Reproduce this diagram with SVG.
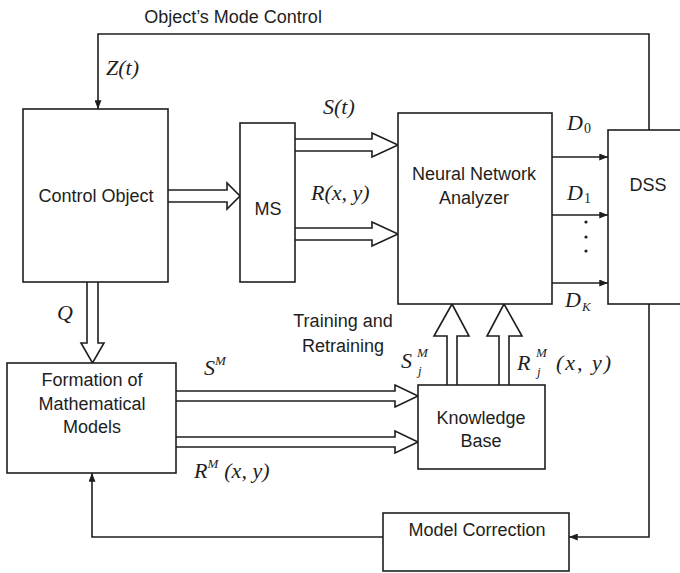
<svg xmlns="http://www.w3.org/2000/svg" width="680" height="573" viewBox="0 0 680 573">
<style>
.box{fill:#fff;stroke:#1e1e1e;stroke-width:1.6}
.ln{fill:none;stroke:#1e1e1e;stroke-width:1.6}
.fat{fill:#fff;stroke:#1e1e1e;stroke-width:1.6;stroke-linejoin:miter}
.lbl{font-family:"Liberation Sans",Arial,sans-serif;font-size:18px;fill:#1e1e1e;text-anchor:middle}
.m{font-family:"Liberation Serif","Times New Roman",serif;font-style:italic;font-size:22px;fill:#1e1e1e}
.s{font-family:"Liberation Serif","Times New Roman",serif;font-style:italic;font-size:13px;fill:#1e1e1e}
.su{font-family:"Liberation Serif","Times New Roman",serif;font-style:normal;font-size:14px;fill:#1e1e1e}
</style>
<defs>
<marker id="ah" viewBox="0 0 10 8" refX="10" refY="4" markerWidth="9" markerHeight="7" markerUnits="userSpaceOnUse" orient="auto">
<path d="M0,0 L10,4 L0,8 Z" fill="#1e1e1e"/>
</marker>
</defs>
<text class="lbl" x="233" y="23">Object’s Mode Control</text>
<g id="connectors">
<polyline class="ln" points="649,130 649,34 98,34 98,109" marker-end="url(#ah)"/>
<line class="ln" x1="552" y1="157" x2="608" y2="157" marker-end="url(#ah)"/>
<line class="ln" x1="552" y1="215" x2="608" y2="215" marker-end="url(#ah)"/>
<line class="ln" x1="552" y1="283" x2="608" y2="283" marker-end="url(#ah)"/>
<polyline class="ln" points="649,304 649,537 569,537" marker-end="url(#ah)"/>
<polyline class="ln" points="383,537 92,537 92,473" marker-end="url(#ah)"/>
<path class="fat" d="M168,190 L227,190 L227,183 L240,196 L227,209 L227,202 L168,202"/>
<path class="fat" d="M295,139 L372,139 L372,133 L398,145 L372,157 L372,151 L295,151"/>
<path class="fat" d="M295,228 L372,228 L372,222 L398,234 L372,246 L372,240 L295,240"/>
<path class="fat" d="M87,282 L87,343 L81,343 L92.5,363 L104,343 L98,343 L98,282"/>
<path class="fat" d="M176,391 L395,391 L395,385 L418,396 L395,407 L395,401 L176,401"/>
<path class="fat" d="M176,437 L395,437 L395,431 L418,442 L395,453 L395,447 L176,447"/>
<path class="fat" d="M447,385 L447,336 L434,336 L452,304 L469,336 L457,336 L457,385"/>
<path class="fat" d="M499,385 L499,336 L487,336 L504,304 L522,336 L509,336 L509,385"/>
</g>
<g id="control-object">
<rect class="box" x="23" y="109" width="145" height="173"/>
<text class="lbl" x="96" y="202">Control Object</text>
</g>
<g id="ms">
<rect class="box" x="240" y="123" width="55" height="159"/>
<text class="lbl" x="268" y="215">MS</text>
</g>
<g id="neural-network-analyzer">
<rect class="box" x="398" y="113" width="154" height="191"/>
<text class="lbl" x="474" y="180">Neural Network</text>
<text class="lbl" x="474" y="204">Analyzer</text>
</g>
<g id="dss">
<rect class="box" x="608" y="130" width="80" height="174"/>
<text class="lbl" x="648" y="191">DSS</text>
</g>
<g id="formation">
<rect class="box" x="7" y="363" width="169" height="110"/>
<text class="lbl" x="92" y="386">Formation of</text>
<text class="lbl" x="92" y="410">Mathematical</text>
<text class="lbl" x="92" y="433">Models</text>
</g>
<g id="knowledge-base">
<rect class="box" x="418" y="385" width="127" height="84"/>
<text class="lbl" x="481" y="424">Knowledge</text>
<text class="lbl" x="481" y="447">Base</text>
</g>
<g id="model-correction">
<rect class="box" x="383" y="513" width="186" height="58"/>
<text class="lbl" x="477" y="536">Model Correction</text>
</g>
<g id="labels">
<text class="lbl" x="343" y="327">Training and</text>
<text class="lbl" x="343" y="352">Retraining</text>
<text class="m" x="106" y="75">Z(t)</text>
<text class="m" x="323" y="114">S(t)</text>
<text class="m" x="311" y="200">R(x, y)</text>
<text class="m" x="57" y="320">Q</text>
<text class="m" x="567" y="130">D<tspan class="su" dx="1" dy="3">0</tspan></text>
<text class="m" x="567" y="200">D<tspan class="su" dx="1" dy="3">1</tspan></text>
<text class="m" x="565" y="307">D<tspan class="s" dx="1" dy="4">K</tspan></text>
<circle cx="586" cy="222" r="1.6" fill="#1e1e1e"/>
<circle cx="586" cy="237" r="1.6" fill="#1e1e1e"/>
<circle cx="586" cy="251" r="1.6" fill="#1e1e1e"/>
<text class="m" x="204" y="375">S<tspan class="s" dy="-10">M</tspan></text>
<text class="m" x="194" y="478">R<tspan class="s" dy="-10">M</tspan><tspan dx="6" dy="10">(x, y)</tspan></text>
<text class="m" x="401" y="368">S</text>
<text class="s" x="417" y="357">M</text>
<text class="s" x="418" y="375">j</text>
<text class="m" x="517" y="370">R</text>
<text class="s" x="536" y="357">M</text>
<text class="s" x="537" y="376">j</text>
<text class="m" x="556" y="370" style="letter-spacing:2px">(x, y)</text>
</g>
</svg>
